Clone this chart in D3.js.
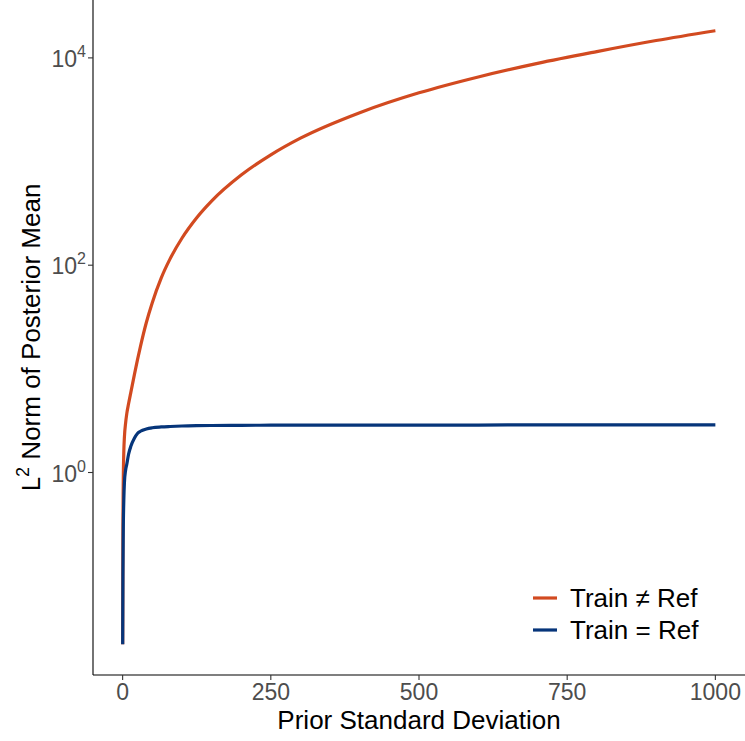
<!DOCTYPE html>
<html lang="en">
<head>
<meta charset="UTF-8" />
<title>L2 norm of posterior mean</title>
<script src="https://d3js.org/d3.v7.min.js"></script>
<style>
    body { margin: 0; background: #fff; }
    svg { display: block; font-family: "Liberation Sans", Arial, sans-serif; }
    .tick-label { fill: #4d4d4d; font-size: 23px; }
    .axis-title { fill: #000; font-size: 26px; }
    .legend-text { fill: #000; font-size: 26px; }
</style>
</head>
<body>
<svg id="chart" width="745" height="741"></svg>
<script>
    // prior standard deviation (x) shared by both series
    const sigma = [0.1, 0.5, 1, 2, 3, 5, 7, 10, 14, 20, 25, 30, 40, 50, 65, 80, 100, 125, 150,
        200, 250, 300, 400, 500, 600, 700, 800, 900, 1000];
    // Train != Ref
    const normDiff = [0.022, 0.3, 0.75, 1.6, 2.2, 3.0, 3.7, 4.6, 6.0, 8.9, 12.2, 16.4, 28, 43.5, 75, 115, 182,
        287, 415, 740, 1160, 1680, 2960, 4600, 6550, 8850, 11500, 14700, 18300];
    // Train = Ref
    const normSame = [0.022, 0.1, 0.25, 0.55, 0.8, 1.05, 1.2, 1.5, 1.8, 2.15, 2.38, 2.5, 2.63, 2.7, 2.75,
        2.78, 2.81, 2.83, 2.84, 2.85, 2.86, 2.86, 2.87, 2.87, 2.87, 2.88, 2.88, 2.88, 2.88];

    const xTicks = [0, 250, 500, 750, 1000];
    const yTickExp = [0, 2, 4];
    const seriesNames = ["Train \u2260 Ref", "Train = Ref"];
    const seriesColors = ["#d24a20", "#06357a"];

    const svg = d3.select("#chart");
    const margin = { left: 93, right: 0, top: 0, bottom: 66 };
    const W = 745, H = 741;

    // ggplot-style 5% expansion
    const xScale = d3.scaleLinear().domain([-50, 1050]).range([margin.left, W - margin.right]);
    const allVals = normDiff.concat(normSame);
    const lmin = Math.log10(d3.min(allVals)), lmax = Math.log10(d3.max(allVals));
    const pad = (lmax - lmin) * 0.05;
    const yScale = d3.scaleLog()
        .domain([Math.pow(10, lmin - pad), Math.pow(10, lmax + pad)])
        .range([H - margin.bottom, margin.top]);

    const line = d3.line()
        .x(d => xScale(d[0]))
        .y(d => yScale(d[1]))
        .curve(d3.curveMonotoneX);

    const series = [normDiff, normSame].map(vals => sigma.map((s, i) => [s, vals[i]]));

    svg.append("g").selectAll("path")
        .data(series)
        .enter().append("path")
        .attr("d", line)
        .attr("fill", "none")
        .attr("stroke", (d, i) => seriesColors[i])
        .attr("stroke-width", 3.2)
        .attr("stroke-linejoin", "round");

    // axes
    const x0 = margin.left, y0 = H - margin.bottom;
    svg.append("line").attr("x1", x0).attr("x2", W).attr("y1", y0).attr("y2", y0)
        .attr("stroke", "#000").attr("stroke-width", 1.1);
    svg.append("line").attr("x1", x0).attr("x2", x0).attr("y1", 0).attr("y2", y0)
        .attr("stroke", "#000").attr("stroke-width", 1.1);

    // x ticks
    const xt = svg.append("g").selectAll("g").data(xTicks).enter().append("g")
        .attr("transform", d => `translate(${xScale(d)},${y0})`);
    xt.append("line").attr("y2", 5).attr("stroke", "#333").attr("stroke-width", 1.1);
    xt.append("text").attr("class", "tick-label").attr("text-anchor", "middle")
        .attr("y", 25).text(d => d);

    // y ticks
    const yt = svg.append("g").selectAll("g").data(yTickExp).enter().append("g")
        .attr("transform", d => `translate(${x0},${yScale(Math.pow(10, d))})`);
    yt.append("line").attr("x2", -5).attr("stroke", "#333").attr("stroke-width", 1.1);
    const ytx = yt.append("text").attr("class", "tick-label").attr("text-anchor", "end")
        .attr("x", -7).attr("y", 9);
    ytx.append("tspan").text("10");
    ytx.append("tspan").attr("dy", -10).attr("font-size", 16).text(d => d);

    // axis titles
    svg.append("text").attr("class", "axis-title").attr("text-anchor", "middle")
        .attr("x", (x0 + W) / 2).attr("y", 729).text("Prior Standard Deviation");
    const yTitle = svg.append("text").attr("class", "axis-title").attr("text-anchor", "middle")
        .attr("transform", `translate(40,${y0 / 2}) rotate(-90)`);
    yTitle.append("tspan").text("L");
    yTitle.append("tspan").attr("dy", -11).attr("font-size", 18).text("2");
    yTitle.append("tspan").attr("dy", 11).text(" Norm of Posterior Mean");

    // legend
    const lg = svg.append("g").selectAll("g").data(seriesNames).enter().append("g")
        .attr("transform", (d, i) => `translate(533,${598 + i * 32})`);
    lg.append("line").attr("x2", 24)
        .attr("stroke", (d, i) => seriesColors[i]).attr("stroke-width", 3.2);
    lg.append("text").attr("class", "legend-text").attr("x", 37).attr("y", 9).text(d => d);
</script>
</body>
</html>
